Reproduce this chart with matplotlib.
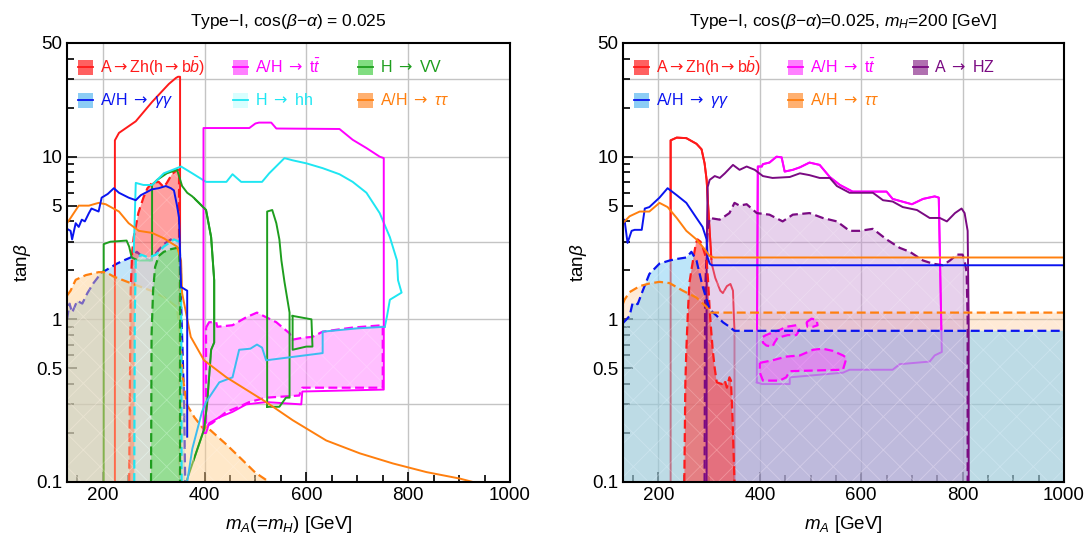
import matplotlib
matplotlib.use("Agg")
import matplotlib.pyplot as plt
from matplotlib.patches import Rectangle
from matplotlib.ticker import FixedLocator, NullFormatter

plt.rcParams['font.family'] = ['Liberation Sans', 'DejaVu Sans']
plt.rcParams['mathtext.fontset'] = 'custom'
plt.rcParams['mathtext.rm'] = 'Liberation Sans'
plt.rcParams['mathtext.it'] = 'Liberation Sans:italic'
plt.rcParams['mathtext.bf'] = 'Liberation Sans:bold'
plt.rcParams['mathtext.sf'] = 'DejaVu Sans'
plt.rcParams['hatch.linewidth'] = 0.6

# ---------------- left panel: Type-I, cos(b-a)=0.025, mA = mH ----------------
# A -> Zh (h -> bb)
zh_obs_x = [224, 224, 232, 265, 297, 330, 344, 348, 352, 352]
zh_obs_y = [0.1, 12.6, 14.0, 16.5, 21.7, 28.0, 30.5, 31.0, 31.0, 0.1]
zh_exp_x = [252, 255, 258, 261, 265, 270, 280, 288, 297, 310, 320, 326, 336, 346, 350, 350]
zh_exp_y = [0.1, 1.5, 2.6, 3.2, 3.7, 4.5, 5.6, 6.4, 6.9, 7.0, 6.5, 6.9, 7.8, 8.3, 8.3, 0.1]

# A/H -> gamma gamma
gg_obs_x = [130, 137, 140, 147, 153, 159, 165, 173, 178, 185, 192, 198, 210, 222, 232,
            251, 265, 275, 297, 310, 324, 334, 340, 346, 350, 354, 366, 366]
gg_obs_y = [3.6, 3.5, 3.1, 3.9, 3.7, 4.1, 4.0, 4.5, 4.8, 4.7, 4.6, 5.6, 5.9, 6.4, 6.0,
            5.6, 5.4, 5.8, 6.3, 6.4, 6.6, 6.4, 6.2, 5.0, 4.2, 1.58, 1.5, 0.19]
gg_exp_x = [130, 135, 140, 150, 160, 170, 182, 190, 196, 206, 228, 241, 255, 267, 280,
            293, 307, 320, 334, 350, 355, 360, 362]
gg_exp_y = [1.0, 1.25, 1.1, 1.3, 1.25, 1.45, 1.67, 1.8, 1.93, 2.0, 2.2, 2.3, 2.4, 2.6, 2.4,
            2.3, 2.6, 2.9, 3.1, 2.9, 1.0, 0.3, 0.1]

# A/H -> tau tau
tt_obs_x = [130, 137, 153, 173, 192, 206, 232, 251, 271, 297, 320, 346, 354, 356, 373,
            399, 443, 521, 573, 639, 705, 770, 836, 901, 927]
tt_obs_y = [3.9, 4.2, 5.0, 5.0, 5.2, 5.1, 4.6, 3.9, 3.5, 3.4, 3.15, 2.8, 2.3, 1.45, 0.78,
            0.56, 0.44, 0.31, 0.24, 0.18, 0.15, 0.13, 0.115, 0.105, 0.1]
tt_exp_x = [130, 137, 147, 167, 192, 206, 222, 255, 295, 320, 346, 352, 357, 365, 380,
            399, 403, 443, 474, 500, 527]
tt_exp_y = [1.4, 1.5, 1.75, 1.87, 1.95, 1.95, 1.83, 1.67, 1.5, 1.37, 1.19, 0.8, 0.45, 0.3, 0.25,
            0.21, 0.22, 0.17, 0.137, 0.114, 0.1]

# H -> VV
vv_obs_x = [202, 202, 215, 247, 252, 257, 270, 297, 297, 307, 326, 346, 350, 356, 366,
            376, 389, 403, 413, 419, 419, 413, 405, 399, 364]
vv_obs_y = [0.1, 2.9, 3.0, 3.05, 2.8, 2.4, 2.3, 2.3, 6.7, 7.2, 7.9, 8.3, 7.6, 6.6, 6.0,
            5.7, 5.2, 4.7, 3.2, 1.74, 0.72, 0.65, 0.3, 0.21, 0.1]
vv_isl_x = [523, 523, 533, 541, 547, 551, 557, 567, 567, 560, 547, 523]
vv_isl_y = [0.29, 4.6, 4.7, 3.9, 3.1, 2.3, 1.7, 1.1, 0.33, 0.33, 0.29, 0.29]
vv_loop_x = [573, 610, 612, 600, 573, 573]
vv_loop_y = [1.05, 1.0, 0.68, 0.68, 0.65, 1.05]
vv_exp_x = [295, 296, 299, 303, 310, 320, 334, 346, 350, 352, 352]
vv_exp_y = [0.1, 0.8, 1.5, 2.1, 2.45, 2.6, 2.7, 2.75, 2.7, 2.0, 0.1]

# H -> hh
hh_obs_x = [261, 265, 280, 297, 320, 354, 376, 403, 443, 455, 472, 513, 527, 557, 573,
            600, 632, 665, 691, 718, 744, 764, 778, 780, 787, 764, 758, 754, 700, 632,
            632, 521, 513, 503, 490, 468, 455, 429, 403, 395, 376, 366]
hh_obs_y = [2.6, 6.9, 6.7, 6.7, 7.9, 8.7, 7.9, 7.0, 7.0, 7.8, 7.0, 7.0, 7.9, 9.8, 9.5,
            9.1, 8.5, 7.8, 7.0, 6.0, 4.5, 3.2, 2.3, 1.74, 1.46, 1.32, 1.03, 0.9, 0.88, 0.84,
            0.62, 0.56, 0.67, 0.7, 0.66, 0.65, 0.44, 0.41, 0.31, 0.27, 0.16, 0.1]
hh_exp_x = [262, 263, 265, 275, 290, 305, 320, 340, 350, 354, 355]
hh_exp_y = [0.1, 1.0, 2.3, 2.5, 2.4, 2.5, 2.8, 3.1, 3.0, 2.0, 0.1]

# A/H -> t tbar
top_obs_x = [398, 398, 488, 500, 507, 531, 541, 665, 691, 718, 744, 752, 752, 592, 590,
             521, 482, 455, 429, 409, 403, 398]
top_obs_y = [0.2, 15.0, 15.0, 16.0, 16.2, 16.2, 14.9, 14.8, 12.7, 11.3, 10.0, 9.8, 0.37, 0.36, 0.3,
             0.31, 0.3, 0.27, 0.25, 0.23, 0.2, 0.2]
top_exp_x = [403, 409, 423, 425, 455, 482, 503, 521, 541, 567, 573, 592, 612, 632, 691,
             750, 750, 592, 586, 521, 488, 468, 443, 415, 403, 403]
top_exp_y = [0.89, 0.96, 0.96, 0.9, 0.92, 1.03, 1.1, 1.03, 0.96, 0.82, 0.75, 0.77, 0.78, 0.84, 0.89,
             0.92, 0.38, 0.38, 0.34, 0.33, 0.31, 0.29, 0.27, 0.23, 0.22, 0.89]

# ---------------- right panel: Type-I, cos(b-a)=0.025, mH = 200 ----------------
r_zh_obs_x = [224, 224, 236, 255, 275, 285, 291, 295, 298, 301, 305, 312, 322, 327, 335,
              342, 347, 349, 350, 350]
r_zh_obs_y = [0.1, 12.6, 13.1, 13.0, 12.0, 11.1, 9.1, 7.2, 5.0, 3.5, 2.2, 1.8, 1.5, 1.45, 1.6,
              1.65, 1.5, 1.0, 0.86, 0.1]
r_zh_exp_x = [251, 253, 255, 258, 261, 266, 271, 274, 277, 283, 287, 292, 295, 298, 301,
              304, 307, 311, 315, 325, 331, 335, 340, 343, 346, 350]
r_zh_exp_y = [0.1, 0.4, 0.65, 1.1, 1.67, 2.1, 2.6, 2.95, 3.1, 3.0, 2.8, 2.5, 2.3, 1.7, 1.15,
              0.85, 0.65, 0.5, 0.41, 0.4, 0.42, 0.38, 0.44, 0.42, 0.25, 0.1]

r_gg_obs_x = [130, 133, 139, 147, 153, 167, 173, 182, 202, 218, 236, 255, 275, 287, 295,
              297, 301, 305, 1000]
r_gg_obs_y = [4.0, 4.1, 2.95, 3.5, 3.55, 3.55, 4.8, 4.9, 5.6, 6.4, 5.8, 5.2, 4.2, 3.7, 3.1,
              2.4, 2.2, 2.15, 2.15]
r_gg_exp_x = [130, 137, 143, 149, 159, 169, 182, 202, 222, 236, 255, 265, 275, 287, 301,
              315, 327, 340, 350, 1000]
r_gg_exp_y = [0.95, 1.0, 1.05, 1.26, 1.24, 1.5, 1.9, 2.2, 2.3, 2.35, 2.4, 2.6, 2.3, 1.6, 1.15,
              1.05, 0.96, 0.9, 0.85, 0.85]

r_tt_obs_x = [130, 133, 143, 163, 182, 202, 218, 236, 255, 275, 291, 301, 310, 1000]
r_tt_obs_y = [3.9, 4.0, 4.3, 4.6, 4.6, 5.2, 4.9, 4.2, 3.5, 3.1, 2.7, 2.45, 2.4, 2.4]
r_tt_exp_x = [130, 133, 143, 163, 182, 202, 222, 248, 275, 295, 301, 1000]
r_tt_exp_y = [1.25, 1.32, 1.47, 1.6, 1.66, 1.7, 1.67, 1.5, 1.36, 1.19, 1.1, 1.1]

r_top_obs_x = [394, 396, 404, 406, 419, 433, 443, 449, 465, 479, 498, 518, 538, 558, 583,
               650, 662, 700, 722, 745, 753, 759, 745, 735, 676, 662, 577, 564, 459, 459,
               404, 394]
r_top_obs_y = [0.41, 8.7, 8.7, 9.0, 9.2, 10.0, 9.9, 8.1, 8.3, 8.6, 9.2, 8.9, 7.5, 6.7, 6.1,
               6.1, 5.5, 5.1, 5.5, 5.7, 5.6, 0.63, 0.6, 0.55, 0.53, 0.49, 0.49, 0.47, 0.44, 0.40,
               0.40, 0.41]
r_top_isl1_x = [406, 412, 425, 439, 452, 472, 478, 472, 455, 435, 429, 425, 413, 406, 406]
r_top_isl1_y = [0.78, 0.8, 0.83, 0.86, 0.9, 0.92, 0.86, 0.8, 0.8, 0.77, 0.72, 0.68, 0.69, 0.72, 0.78]
r_top_isl2_x = [492, 502, 512, 514, 505, 494, 492]
r_top_isl2_y = [0.96, 1.01, 0.99, 0.92, 0.9, 0.9, 0.96]
r_top_isl3_x = [400, 425, 452, 479, 505, 524, 544, 564, 571, 564, 459, 452, 439, 406, 400, 400]
r_top_isl3_y = [0.54, 0.56, 0.59, 0.6, 0.65, 0.66, 0.64, 0.6, 0.58, 0.49, 0.48, 0.44, 0.42, 0.42, 0.47, 0.54]

r_hz_obs_x = [295, 295, 297, 301, 311, 321, 331, 347, 360, 374, 390, 406, 425, 459, 479,
              498, 518, 538, 552, 577, 623, 643, 662, 682, 710, 735, 755, 769, 785, 798,
              804, 810, 812, 812]
r_hz_obs_y = [0.1, 2.5, 6.5, 7.2, 7.6, 7.4, 7.9, 8.9, 8.3, 8.7, 8.3, 7.6, 7.4, 7.5, 7.9,
              7.7, 7.4, 7.4, 6.6, 6.0, 6.0, 5.4, 5.3, 4.9, 4.7, 4.2, 4.2, 4.0, 4.5, 4.8,
              4.5, 3.5, 1.0, 0.1]
r_hz_exp_x = [291, 292, 295, 297, 301, 321, 340, 350, 360, 374, 394, 419, 445, 465, 498,
              524, 552, 577, 597, 623, 650, 676, 696, 722, 741, 761, 775, 789, 800, 804,
              808, 810, 810]
r_hz_exp_y = [0.1, 1.5, 2.5, 3.5, 4.2, 4.1, 4.5, 5.2, 5.0, 5.1, 4.5, 4.4, 4.0, 4.4, 4.5,
              4.2, 4.0, 3.5, 3.5, 3.6, 3.1, 2.75, 2.6, 2.3, 2.2, 2.15, 2.3, 2.5, 2.5, 2.3,
              1.93, 1.0, 0.1]

# axis ticks
x_ticks = [200, 400, 600, 800, 1000]
y_ticks = [0.1, 0.5, 1, 5, 10, 50]
y_tick_labels = ['0.1', '0.5', '1', '5', '10', '50']
y_minor = [0.2, 0.3, 0.4, 0.6, 0.7, 0.8, 0.9, 2, 3, 4, 6, 7, 8, 9, 20, 30, 40]
x_grid = [200, 400, 600, 800]
y_grid = [0.3, 1, 3, 10, 30]

RED = '#ff1a1a'
MAG = '#ff00ff'
GRN = '#1e9e1e'
BLU = '#0a14f0'
CYN = '#1ee6f2'
SKY = '#3cbcf0'
ORG = '#ff7f0e'
PUR = '#7a0a82'
YMIN = 0.1
ARR = r'$\mathsf{\rightarrow}$'
DASH = (0, (4, 2))


def below(x, y):
    # close a boundary down to the bottom of the plot
    return list(x) + [x[-1], x[0]], list(y) + [YMIN, YMIN]


def clip_box(ax, artist, x0, x1, y0, y1):
    box = Rectangle((x0, y0), x1 - x0, y1 - y0, transform=ax.transData)
    artist.set_clip_path(box)


def region(ax, px, py, color, alpha, z, hatch_col=(1, 1, 1, 0.2)):
    ax.fill(px, py, color=color, alpha=alpha, lw=0, zorder=z)
    ax.fill(px, py, facecolor='none', edgecolor=hatch_col, hatch='x', lw=0, zorder=z)


def style_axes(ax, title, xlabel):
    ax.set_yscale('log')
    ax.set_xlim(130, 1000)
    ax.set_ylim(0.1, 50)
    ax.set_xticks(x_ticks)
    ax.xaxis.set_minor_locator(FixedLocator(range(150, 1000, 50)))
    ax.yaxis.set_major_locator(FixedLocator(y_ticks))
    ax.set_yticklabels(y_tick_labels)
    ax.yaxis.set_minor_locator(FixedLocator(y_minor))
    ax.yaxis.set_minor_formatter(NullFormatter())
    ax.tick_params(which='both', direction='in', labelsize=13.5, width=1.2,
                   top=False, right=False)
    ax.tick_params(which='major', length=7)
    ax.tick_params(which='minor', length=5)
    for s in ax.spines.values():
        s.set_linewidth(1.5)
        s.set_zorder(30)
    for g in x_grid:
        ax.axvline(g, color='#c4c4c4', lw=1.0, zorder=0.5)
    for g in y_grid:
        ax.axhline(g, color='#c4c4c4', lw=1.0, zorder=0.5)
    ax.set_title(title, fontsize=12.5, pad=12)
    ax.set_xlabel(xlabel, fontsize=13.5, labelpad=7)
    ax.set_ylabel(r'tan$\beta$', fontsize=13.5, labelpad=2)


def legend_entry(ax, col, row, label, fill, line):
    x0 = [0.025, 0.375, 0.657][col]
    y0 = [0.945, 0.870][row]
    ax.add_patch(Rectangle((x0, y0 - 0.017), 0.034, 0.034, transform=ax.transAxes,
                           facecolor=fill, edgecolor='none', zorder=20))
    ax.plot([x0, x0 + 0.034], [y0, y0], transform=ax.transAxes, color=line, lw=1.3, zorder=21)
    ax.text(x0 + 0.049, y0, label, transform=ax.transAxes, color=line, fontsize=11.5,
            va='center', ha='left', zorder=21)


fig = plt.figure(figsize=(10.88, 5.38), dpi=100)
axL = fig.add_axes([0.0616, 0.1041, 0.4072, 0.816])
axR = fig.add_axes([0.5726, 0.1041, 0.4053, 0.816])

# ---- left panel ----
ax = axL
region(ax, *below(gg_exp_x, gg_exp_y), '#8fd0f5', 0.55, 2)
ax.plot(gg_exp_x, gg_exp_y, color=BLU, lw=1.6, ls=DASH, zorder=2.1)
ax.plot(gg_obs_x, gg_obs_y, color=BLU, lw=1.4, zorder=9)
region(ax, *below(zh_exp_x, zh_exp_y), '#ff5050', 0.55, 3)
ax.plot(zh_exp_x, zh_exp_y, color=RED, lw=1.6, ls=DASH, zorder=3.1)
ax.plot(zh_obs_x, zh_obs_y, color=RED, lw=1.4, zorder=3.2)
ax.plot(vv_obs_x, vv_obs_y, color=GRN, lw=1.4, zorder=3.3)
ln = ax.plot(vv_obs_x, vv_obs_y, color=GRN, lw=1.4, zorder=7.3)[0]
clip_box(ax, ln, 380, 1000, 0.1, 50)
ax.plot(vv_isl_x, vv_isl_y, color=GRN, lw=1.4, zorder=7.3)
ax.plot(vv_loop_x, vv_loop_y, color=GRN, lw=1.4, zorder=7.3)
ax.plot(hh_obs_x[:28], hh_obs_y[:28], color=CYN, lw=1.4, zorder=3.4)
ax.plot(hh_obs_x[27:], hh_obs_y[27:], color=SKY, lw=1.4, zorder=7.3)
region(ax, *below(tt_exp_x, tt_exp_y), '#ffcc88', 0.45, 4)
ax.plot(tt_exp_x, tt_exp_y, color=ORG, lw=1.6, ls=DASH, zorder=4.1)
ax.plot(tt_obs_x, tt_obs_y, color=ORG, lw=1.4, zorder=8)
region(ax, *below(hh_exp_x, hh_exp_y), '#c8ffff', 0.6, 5)
ax.plot(hh_exp_x, hh_exp_y, color=CYN, lw=1.6, ls=DASH, zorder=5.1)
region(ax, *below(vv_exp_x, vv_exp_y), '#55dd55', 0.5, 6)
ax.plot(vv_exp_x, vv_exp_y, color=GRN, lw=1.6, ls=DASH, zorder=6.1)
region(ax, top_exp_x, top_exp_y, '#ff80ff', 0.5, 7)
ax.plot(top_exp_x, top_exp_y, color=MAG, lw=1.6, ls=DASH, zorder=7.1)
ax.plot(top_obs_x, top_obs_y, color=MAG, lw=1.4, zorder=7.2)
style_axes(ax, r'Type$-$I, cos($\beta$$-$$\alpha$) = 0.025', r'$m_A$(=$m_H$) [GeV]')
legend_entry(ax, 0, 0, 'A' + ARR + 'Zh(h' + ARR + r'b$\bar{b}$)', '#ff6060', RED)
legend_entry(ax, 1, 0, 'A/H ' + ARR + r' t$\bar{t}$', '#ff80ff', MAG)
legend_entry(ax, 2, 0, 'H ' + ARR + ' VV', '#80dd80', GRN)
legend_entry(ax, 0, 1, 'A/H ' + ARR + r' $\gamma\gamma$', '#8ccdf5', BLU)
legend_entry(ax, 1, 1, 'H ' + ARR + ' hh', '#d8ffff', CYN)
legend_entry(ax, 2, 1, 'A/H ' + ARR + r' $\tau\tau$', '#ffb070', ORG)

# ---- right panel ----
ax = axR
region(ax, *below(r_tt_exp_x, r_tt_exp_y), '#ffbc7a', 0.3, 2)
ax.plot(r_top_obs_x, r_top_obs_y, color=MAG, lw=1.4, zorder=2.2)
ln = ax.plot(r_top_obs_x, r_top_obs_y, color=MAG, lw=1.4, zorder=6)[0]
clip_box(ax, ln, 100, 1000, 0.86, 50)
ax.plot(r_zh_obs_x, r_zh_obs_y, color=RED, lw=1.4, zorder=2.3)
ln = ax.plot(r_zh_obs_x, r_zh_obs_y, color=RED, lw=1.4, zorder=6)[0]
clip_box(ax, ln, 100, 1000, 2.3, 50)
region(ax, *below(r_gg_exp_x, r_gg_exp_y), '#7dcdf5', 0.5, 3)
region(ax, *below(r_hz_exp_x, r_hz_exp_y), '#c286cf', 0.38, 4)
region(ax, *below(r_zh_exp_x, r_zh_exp_y), '#ff4040', 0.6, 4.5)
for ix, iy in [(r_top_isl1_x, r_top_isl1_y), (r_top_isl2_x, r_top_isl2_y),
               (r_top_isl3_x, r_top_isl3_y)]:
    ax.fill(ix, iy, color='#ff55ff', alpha=0.45, lw=0, zorder=5)
    ax.plot(ix, iy, color=MAG, lw=1.6, ls=DASH, zorder=5.1)
ax.plot(r_hz_exp_x, r_hz_exp_y, color=PUR, lw=1.6, ls=DASH, zorder=6)
ax.plot(r_hz_obs_x, r_hz_obs_y, color=PUR, lw=1.4, zorder=6)
ax.plot(r_zh_exp_x, r_zh_exp_y, color=RED, lw=1.6, ls=DASH, zorder=6)
ax.plot(r_gg_exp_x, r_gg_exp_y, color=BLU, lw=1.6, ls=DASH, zorder=6)
ax.plot(r_tt_exp_x, r_tt_exp_y, color=ORG, lw=1.6, ls=DASH, zorder=6)
ax.plot(r_gg_obs_x, r_gg_obs_y, color=BLU, lw=1.4, zorder=7)
ax.plot(r_tt_obs_x, r_tt_obs_y, color=ORG, lw=1.4, zorder=7)
style_axes(ax, r'Type$-$I, cos($\beta$$-$$\alpha$)=0.025, $m_H$=200 [GeV]', r'$m_A$ [GeV]')
legend_entry(ax, 0, 0, 'A' + ARR + 'Zh(h' + ARR + r'b$\bar{b}$)', '#ff6060', RED)
legend_entry(ax, 1, 0, 'A/H ' + ARR + r' t$\bar{t}$', '#ff80ff', MAG)
legend_entry(ax, 2, 0, 'A ' + ARR + ' HZ', '#b070b0', PUR)
legend_entry(ax, 0, 1, 'A/H ' + ARR + r' $\gamma\gamma$', '#8ccdf5', BLU)
legend_entry(ax, 1, 1, 'A/H ' + ARR + r' $\tau\tau$', '#ffb070', ORG)

fig.savefig('out.png', dpi=100)
